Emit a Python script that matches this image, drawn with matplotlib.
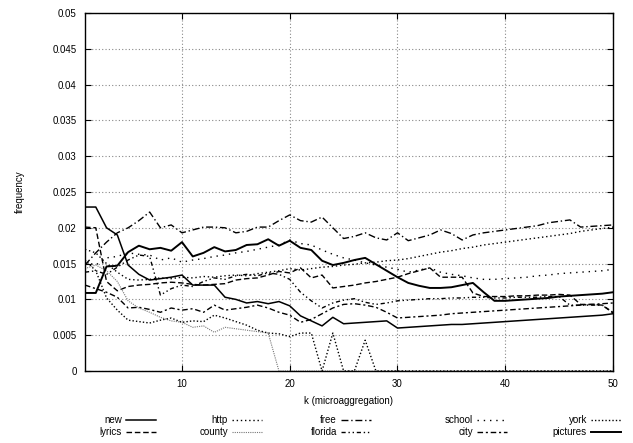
import numpy as np
import matplotlib
matplotlib.use("Agg")
import matplotlib.pyplot as plt
from matplotlib.lines import Line2D

plt.rcParams['font.family'] = ['Liberation Sans', 'DejaVu Sans']

# k values (microaggregation level)
k = list(range(1, 51))

# frequencies per term
new = [0.0229, 0.0229, 0.0200, 0.0190, 0.0148, 0.0135, 0.0127, 0.0129, 0.0131, 0.0134,
       0.0120, 0.0120, 0.0120, 0.0103, 0.0100, 0.0095, 0.0097, 0.0094, 0.0097, 0.0091,
       0.0077, 0.0070, 0.0063, 0.0075, 0.0066, 0.0067, 0.0068, 0.0069, 0.0070, 0.0060,
       0.0061, 0.0062, 0.0063, 0.0064, 0.0065, 0.0065, 0.0066, 0.0067, 0.0068, 0.0069,
       0.0070, 0.0071, 0.0072, 0.0073, 0.0074, 0.0075, 0.0076, 0.0077, 0.0078, 0.0080]
lyrics = [0.0201, 0.0200, 0.0125, 0.0112, 0.0118, 0.0120, 0.0121, 0.0123, 0.0124, 0.0123,
          0.0121, 0.0120, 0.0121, 0.0122, 0.0127, 0.0129, 0.0130, 0.0134, 0.0139, 0.0137,
          0.0144, 0.0130, 0.0134, 0.0116, 0.0118, 0.0120, 0.0123, 0.0125, 0.0128, 0.0131,
          0.0136, 0.0140, 0.0144, 0.0131, 0.0131, 0.0131, 0.0109, 0.0104, 0.0104, 0.0104,
          0.0105, 0.0105, 0.0106, 0.0106, 0.0107, 0.0106, 0.0093, 0.0093, 0.0092, 0.0081]
http = [0.0170, 0.0165, 0.0150, 0.0138, 0.0128, 0.0127, 0.0128, 0.0130, 0.0129, 0.0131,
        0.0130, 0.0132, 0.0131, 0.0133, 0.0134, 0.0133, 0.0136, 0.0138, 0.0140, 0.0143,
        0.0141, 0.0143, 0.0145, 0.0146, 0.0148, 0.0149, 0.0151, 0.0152, 0.0154, 0.0155,
        0.0157, 0.0160, 0.0163, 0.0166, 0.0168, 0.0171, 0.0173, 0.0176, 0.0178, 0.0180,
        0.0182, 0.0184, 0.0186, 0.0188, 0.0190, 0.0192, 0.0195, 0.0197, 0.0199, 0.0201]
county = [0.0143, 0.0148, 0.0140, 0.0125, 0.0098, 0.0088, 0.0082, 0.0075, 0.0070, 0.0068,
          0.0061, 0.0063, 0.0054, 0.0061, 0.0059, 0.0057, 0.0055, 0.0053, 0.0, 0.0,
          0.0, 0.0, 0.0, 0.0, 0.0, 0.0, 0.0, 0.0, 0.0, 0.0,
          0.0, 0.0, 0.0, 0.0, 0.0, 0.0, 0.0, 0.0, 0.0, 0.0,
          0.0, 0.0, 0.0, 0.0, 0.0, 0.0, 0.0, 0.0, 0.0, 0.0]
free = [0.0148, 0.0165, 0.0180, 0.0193, 0.0200, 0.0210, 0.0222, 0.0200, 0.0204, 0.0193,
        0.0197, 0.0201, 0.0201, 0.0200, 0.0193, 0.0195, 0.0201, 0.0201, 0.0210, 0.0218,
        0.0210, 0.0208, 0.0215, 0.0200, 0.0185, 0.0188, 0.0193, 0.0186, 0.0183, 0.0193,
        0.0182, 0.0186, 0.0190, 0.0197, 0.0192, 0.0183, 0.0190, 0.0193, 0.0195, 0.0197,
        0.0199, 0.0201, 0.0203, 0.0207, 0.0209, 0.0211, 0.0201, 0.0202, 0.0203, 0.0204]
florida = [0.0138, 0.0140, 0.0135, 0.0145, 0.0155, 0.0162, 0.0160, 0.0106, 0.0115, 0.0120,
           0.0118, 0.0125, 0.0130, 0.0128, 0.0133, 0.0135, 0.0133, 0.0137, 0.0135, 0.0128,
           0.0110, 0.0098, 0.0088, 0.0095, 0.0099, 0.0101, 0.0096, 0.0093, 0.0095, 0.0098,
           0.0099, 0.0100, 0.0101, 0.0101, 0.0102, 0.0102, 0.0103, 0.0103, 0.0102, 0.0102,
           0.0103, 0.0103, 0.0103, 0.0104, 0.0104, 0.0092, 0.0092, 0.0092, 0.0092, 0.0082]
school = [0.0152, 0.0148, 0.0158, 0.0160, 0.0165, 0.0163, 0.0162, 0.0155, 0.0158, 0.0152,
          0.0155, 0.0157, 0.0160, 0.0162, 0.0165, 0.0167, 0.0170, 0.0173, 0.0176, 0.0183,
          0.0178, 0.0176, 0.0169, 0.0163, 0.0158, 0.0155, 0.0151, 0.0148, 0.0145, 0.0142,
          0.0138, 0.0141, 0.0144, 0.0138, 0.0135, 0.0133, 0.0130, 0.0128, 0.0128, 0.0129,
          0.0130, 0.0131, 0.0133, 0.0134, 0.0136, 0.0137, 0.0138, 0.0139, 0.0140, 0.0142]
city = [0.0120, 0.0115, 0.0110, 0.0103, 0.0088, 0.0089, 0.0086, 0.0082, 0.0088, 0.0085,
        0.0087, 0.0082, 0.0092, 0.0085, 0.0087, 0.0089, 0.0092, 0.0088, 0.0082, 0.0078,
        0.0068, 0.0072, 0.0080, 0.0088, 0.0093, 0.0094, 0.0092, 0.0089, 0.0082, 0.0074,
        0.0075, 0.0076, 0.0077, 0.0078, 0.0080, 0.0081, 0.0082, 0.0083, 0.0084, 0.0085,
        0.0086, 0.0087, 0.0088, 0.0089, 0.0090, 0.0091, 0.0092, 0.0093, 0.0094, 0.0095]
york = [0.0155, 0.0140, 0.0102, 0.0085, 0.0071, 0.0069, 0.0067, 0.0071, 0.0074, 0.0068,
        0.0070, 0.0069, 0.0078, 0.0074, 0.0069, 0.0064, 0.0057, 0.0053, 0.0052, 0.0048,
        0.0053, 0.0053, 0.0, 0.0053, 0.0, 0.0, 0.0043, 0.0, 0.0, 0.0,
        0.0, 0.0, 0.0, 0.0, 0.0, 0.0, 0.0, 0.0, 0.0, 0.0,
        0.0, 0.0, 0.0, 0.0, 0.0, 0.0, 0.0, 0.0, 0.0, 0.0]
pictures = [0.0109, 0.0109, 0.0146, 0.0147, 0.0166, 0.0175, 0.0170, 0.0172, 0.0168, 0.0180,
            0.0160, 0.0165, 0.0173, 0.0167, 0.0169, 0.0176, 0.0177, 0.0184, 0.0175, 0.0182,
            0.0172, 0.0169, 0.0154, 0.0148, 0.0151, 0.0155, 0.0158, 0.0149, 0.0140, 0.0131,
            0.0123, 0.0119, 0.0116, 0.0116, 0.0117, 0.0120, 0.0123, 0.0110, 0.0098, 0.0098,
            0.0099, 0.0100, 0.0101, 0.0102, 0.0104, 0.0105, 0.0106, 0.0107, 0.0108, 0.0110]

series = [
    ("new", new, "-", "black", 1.1),
    ("lyrics", lyrics, (0, (4, 2)), "black", 1.0),
    ("http", http, (0, (1, 2)), "black", 1.0),
    ("county", county, (0, (1, 1)), "#777777", 0.8),
    ("free", free, (0, (5, 2, 1, 2)), "black", 1.0),
    ("florida", florida, (0, (3, 2, 1, 2, 1, 2)), "black", 1.0),
    ("school", school, (0, (1, 3.5)), "black", 1.0),
    ("city", city, (0, (4, 2, 1.5, 2)), "black", 1.0),
    ("york", york, (0, (1, 1.5)), "black", 1.0),
    ("pictures", pictures, "-", "black", 1.4),
]

W, H = 633, 443
fig = plt.figure(figsize=(W / 100, H / 100), dpi=100)
ax = fig.add_axes([85 / W, 1 - 371 / H, 528 / W, 358 / H])

for name, vals, ls, col, lw in series:
    ax.plot(k, vals, linestyle=ls, color=col, linewidth=lw, label=name)

ax.set_xlim(1, 50)
ax.set_ylim(0, 0.05)
ax.set_xticks([10, 20, 30, 40, 50])
ax.set_yticks(np.arange(0, 0.0501, 0.005))
ax.set_yticklabels(["0", "0.005", "0.01", "0.015", "0.02", "0.025",
                    "0.03", "0.035", "0.04", "0.045", "0.05"])
ax.tick_params(direction="in", top=True, right=True, labelsize=7, length=4, pad=6)
ax.grid(True, linestyle=(0, (1, 2)), color="#888888", linewidth=0.8)
for sp in ax.spines.values():
    sp.set_linewidth(1.0)

ax.set_xlabel("k (microaggregation)", fontsize=7, labelpad=5)
ax.set_ylabel("frequency", fontsize=7, labelpad=20)

# gnuplot-style key below the plot: text right-aligned, then the line sample
col_text_right = [122, 228, 337, 473, 587]
row_y = [420, 432]
for i, (name, vals, ls, col, lw) in enumerate(series):
    c, r = divmod(i, 2)
    xr = col_text_right[c]
    y = 1 - row_y[r] / H
    fig.text(xr / W, y, name, ha="right", va="center", fontsize=7)
    fig.add_artist(Line2D([(xr + 4) / W, (xr + 34) / W], [y, y], linestyle=ls,
                          color=col, linewidth=lw, transform=fig.transFigure))

fig.savefig("out.png", dpi=100)
